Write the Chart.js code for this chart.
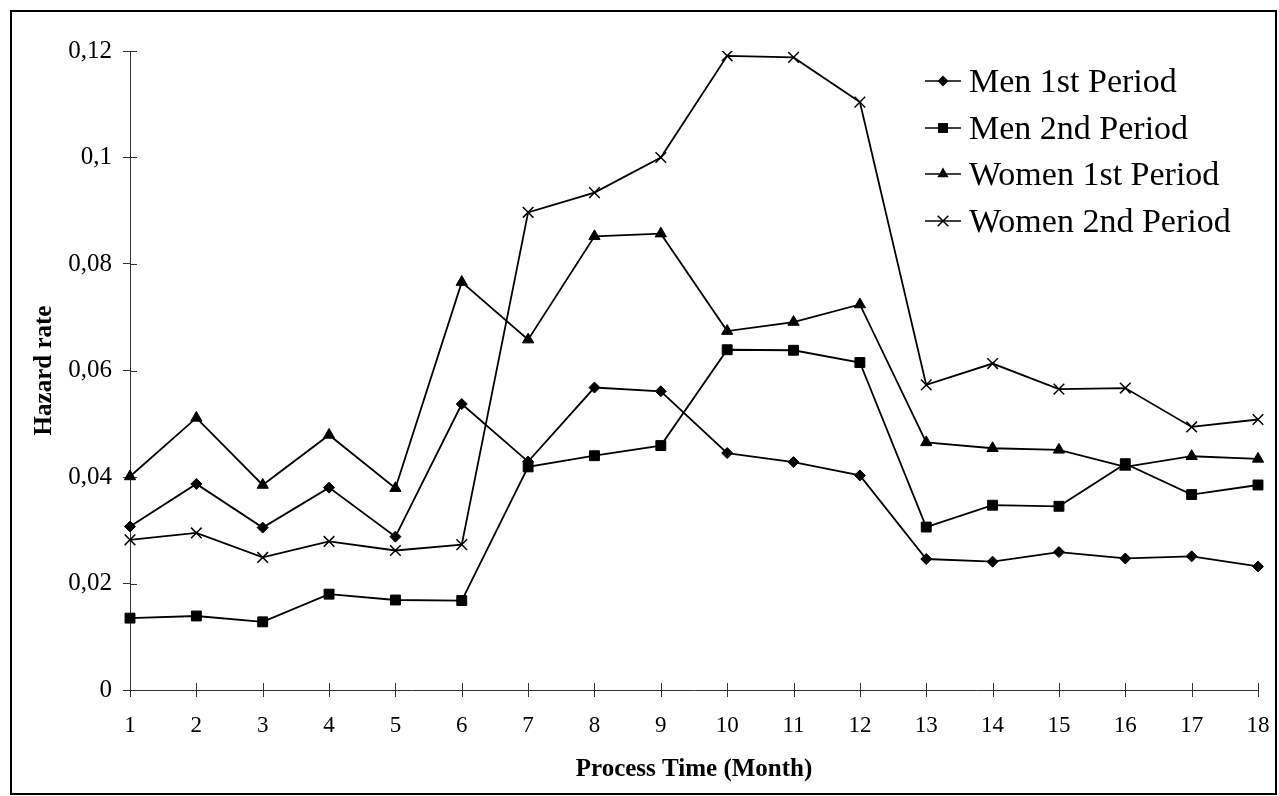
<!DOCTYPE html>
<html>
<head>
<meta charset="utf-8">
<script src="https://cdn.jsdelivr.net/npm/chart.js@4.4.1/dist/chart.umd.min.js"></script>
<style>
  html, body { margin: 0; padding: 0; background: #fff; }
  #wrap { position: relative; width: 1279px; height: 796px; overflow: hidden; }
  #frame { position: absolute; left: 10px; top: 10px; width: 1267px; height: 785px;
           border: 2px solid #000; box-sizing: border-box; pointer-events: none; }
  #legend { position: absolute; left: 925px; top: 58px;
            font-family: 'Liberation Serif', 'Times New Roman', serif; font-size: 34px; color: #000; }
  .row { height: 46.5px; line-height: 46.5px; white-space: nowrap; display: flex; align-items: center; }
  .row canvas { margin-right: 8px; }
</style>
</head>
<body>
<div id="wrap">
  <canvas id="chart" width="1279" height="796"></canvas>
  <div id="frame"></div>
  <div id="legend"></div>
</div>
<script>
// data
const months = ['1','2','3','4','5','6','7','8','9','10','11','12','13','14','15','16','17','18'];
const men1 = [0.0307, 0.0387, 0.0305, 0.0380, 0.0288, 0.0537, 0.0429, 0.0568, 0.0561, 0.0445, 0.0428, 0.0403, 0.0246, 0.0241, 0.0259, 0.0247, 0.0251, 0.0232];
const men2 = [0.0135, 0.0139, 0.0128, 0.0180, 0.0169, 0.0168, 0.0419, 0.0440, 0.0459, 0.0639, 0.0638, 0.0615, 0.0306, 0.0347, 0.0345, 0.0425, 0.0367, 0.0385];
const women1 = [0.0401, 0.0511, 0.0385, 0.0479, 0.0379, 0.0766, 0.0658, 0.0852, 0.0857, 0.0674, 0.0691, 0.0724, 0.0465, 0.0454, 0.0451, 0.0419, 0.0439, 0.0434];
const women2 = [0.0282, 0.0295, 0.0249, 0.0279, 0.0262, 0.0273, 0.0897, 0.0934, 0.1000, 0.1191, 0.1188, 0.1104, 0.0573, 0.0613, 0.0565, 0.0567, 0.0494, 0.0508];
const seriesNames = ['Men 1st Period', 'Men 2nd Period', 'Women 1st Period', 'Women 2nd Period'];
const yTickLabels = ['0', '0,02', '0,04', '0,06', '0,08', '0,1', '0,12'];

const markers = [
  { style: 'rectRot', radius: 5.5 },
  { style: 'rect', radius: 7 },
  { style: 'triangle', radius: 6.5 },
  { style: 'crossRot', radius: 7.5 }
];
const axisColor = '#333';
const serif = "'Liberation Serif', 'Times New Roman', serif";

Chart.defaults.font.family = serif;
Chart.defaults.color = '#000';

const seriesData = [men1, men2, women1, women2];
const datasets = seriesData.map((d, i) => ({
  label: seriesNames[i],
  data: d,
  borderColor: '#000',
  backgroundColor: '#000',
  borderWidth: 1.8,
  pointStyle: markers[i].style,
  pointRadius: markers[i].radius,
  pointHoverRadius: markers[i].radius,
  pointBorderWidth: markers[i].style === 'crossRot' ? 1.5 : 1,
  tension: 0
}));

// ticks in the reference cross the axis line; x ticks are drawn fully here,
// y ticks get their inner half added to the library's outer half
const crossTicks = {
  id: 'crossTicks',
  beforeDatasetsDraw(chart) {
    const { ctx, chartArea, scales } = chart;
    ctx.save();
    ctx.strokeStyle = axisColor;
    ctx.lineWidth = 1;
    ctx.beginPath();
    scales.y.ticks.forEach((t, i) => {
      const py = Math.round(scales.y.getPixelForTick(i)) + 0.5;
      ctx.moveTo(chartArea.left, py);
      ctx.lineTo(chartArea.left + 7, py);
    });
    scales.x.ticks.forEach((t, i) => {
      const px = Math.round(scales.x.getPixelForTick(i)) + 0.5;
      ctx.moveTo(px, chartArea.bottom + 7);
      ctx.lineTo(px, chartArea.bottom - 7);
    });
    ctx.stroke();
    ctx.restore();
  }
};

new Chart(document.getElementById('chart').getContext('2d'), {
  type: 'line',
  data: { labels: months, datasets: datasets },
  options: {
    responsive: false,
    animation: false,
    devicePixelRatio: 1,
    layout: { padding: { left: 0, right: 21, top: 51, bottom: 0 } },
    plugins: { legend: { display: false }, tooltip: { enabled: false } },
    scales: {
      x: {
        offset: false,
        afterFit(scale) { scale.height = 106; },
        grid: { drawOnChartArea: false, drawTicks: true, tickLength: 16, tickColor: 'rgba(0,0,0,0)', color: axisColor },
        border: { display: true, color: axisColor, width: 1 },
        ticks: { font: { size: 23 }, padding: 6, maxRotation: 0, autoSkip: false },
        title: { display: true, text: 'Process Time (Month)', font: { size: 25, weight: 'bold' },
                 padding: { top: 0, bottom: 11 } }
      },
      y: {
        min: 0,
        max: 0.12,
        afterFit(scale) { scale.width = 130; },
        grid: { drawOnChartArea: false, drawTicks: true, tickLength: 7, color: axisColor },
        border: { display: true, color: axisColor, width: 1 },
        ticks: { stepSize: 0.02, font: { size: 25 }, padding: 11,
                 callback: (v, i) => yTickLabels[i] },
        title: { display: true, text: 'Hazard rate', font: { size: 25, weight: 'bold' },
                 padding: { top: 30, bottom: 0 } }
      }
    }
  },
  plugins: [crossTicks]
});

// legend: line sample with marker, then the name
function drawMarker(ctx, m, x, y) {
  const r = m.radius;
  ctx.beginPath();
  if (m.style === 'rectRot') {
    ctx.moveTo(x, y - r); ctx.lineTo(x + r, y); ctx.lineTo(x, y + r); ctx.lineTo(x - r, y);
    ctx.closePath(); ctx.fill();
  } else if (m.style === 'rect') {
    const s = Math.SQRT1_2 * r;
    ctx.rect(x - s, y - s, 2 * s, 2 * s); ctx.fill();
  } else if (m.style === 'triangle') {
    const a = Math.PI * 2 / 3;
    ctx.moveTo(x, y - r);
    ctx.lineTo(x + Math.sin(a) * r, y - Math.cos(a) * r);
    ctx.lineTo(x + Math.sin(2 * a) * r, y - Math.cos(2 * a) * r);
    ctx.closePath(); ctx.fill();
  } else {
    const s = Math.SQRT1_2 * r;
    ctx.lineWidth = 1.5;
    ctx.moveTo(x - s, y - s); ctx.lineTo(x + s, y + s);
    ctx.moveTo(x + s, y - s); ctx.lineTo(x - s, y + s);
    ctx.stroke();
  }
}

const legendBox = document.getElementById('legend');
seriesNames.forEach((name, i) => {
  const row = document.createElement('div');
  row.className = 'row';
  const icon = document.createElement('canvas');
  icon.width = 36; icon.height = 20;
  const c = icon.getContext('2d');
  c.strokeStyle = '#000'; c.fillStyle = '#000'; c.lineWidth = 1.6;
  c.beginPath(); c.moveTo(0, 10); c.lineTo(36, 10); c.stroke();
  drawMarker(c, markers[i], 18, 10);
  row.appendChild(icon);
  const label = document.createElement('span');
  label.textContent = name;
  row.appendChild(label);
  legendBox.appendChild(row);
});
</script>
</body>
</html>
